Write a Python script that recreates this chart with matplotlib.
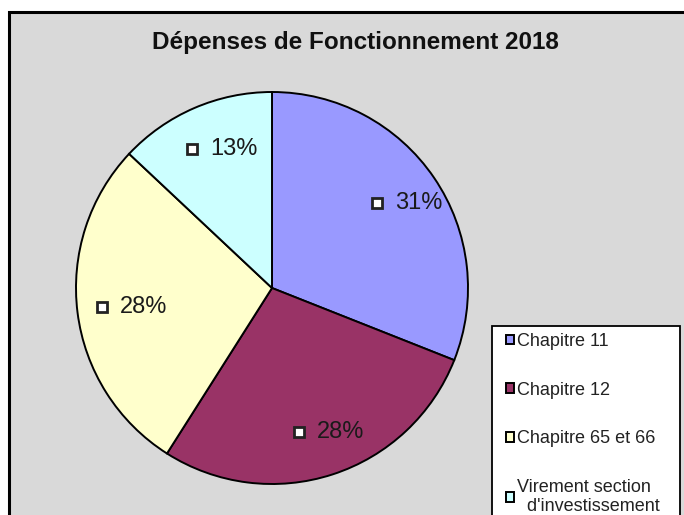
import matplotlib.pyplot as plt
from matplotlib.patches import Rectangle
from matplotlib.transforms import ScaledTranslation
import numpy as np

plt.rcParams['font.family'] = ['Liberation Sans', 'DejaVu Sans']

labels = ['Chapitre 11', 'Chapitre 12', 'Chapitre 65 et 66', 'Virement section\n  d\'investissement']
values = [31, 28, 28, 13]
colors = ['#9999ff', '#993366', '#ffffcc', '#ccffff']
title = 'Dépenses de Fonctionnement 2018'

W, H = 684, 515
fig = plt.figure(figsize=(W / 100, H / 100), dpi=100)
fig.patch.set_facecolor('white')

# grey chart area with black frame (runs off right/bottom like the screenshot)
fig.patches.append(Rectangle((9 / W, -0.1), 1.0, 1 - 12 / H + 0.1, transform=fig.transFigure,
                             facecolor='#d9d9d9', edgecolor='black', linewidth=2.2, zorder=-2))

fig.text(355 / W, 1 - 42 / H, title, ha='center', va='center', fontsize=17.5, fontweight='bold',
         color='#111111')

# pie: centre (272, 288) px, radius 196 px
cx, cy, r = 272, 288, 196
ax = fig.add_axes([(cx - r) / W, (H - cy - r) / H, 2 * r / W, 2 * r / H])
wedges, _ = ax.pie(values, colors=colors, startangle=90, counterclock=False,
                   wedgeprops=dict(edgecolor='black', linewidth=1.4))
ax.set_xlim(-1, 1)
ax.set_ylim(-1, 1)
ax.set_aspect('equal')
ax.axis('off')

shift = ScaledTranslation(-20 / 100, 0, fig.dpi_scale_trans)
for w, v in zip(wedges, values):
    mid = np.deg2rad((w.theta1 + w.theta2) / 2)
    px, py = 0.77 * np.cos(mid), 0.77 * np.sin(mid)
    ax.plot([px], [py], marker='s', markersize=7, markerfacecolor='white',
            markeredgecolor='#222222', markeredgewidth=2, linestyle='none',
            transform=ax.transData + shift)
    ax.annotate(f'{v}%', xy=(px, py), xytext=(-2, 0), textcoords='offset pixels',
                ha='left', va='center', fontsize=17, color='#1a1a1a')

# legend box
fig.patches.append(Rectangle((492 / W, -0.1), 188 / W, 1 - 326 / H + 0.1, transform=fig.transFigure,
                             facecolor='white', edgecolor='black', linewidth=1.3, zorder=-1))
leg = fig.legend(wedges, labels, loc='upper left', bbox_to_anchor=(506 / W, 1 - 333 / H),
                 frameon=False, fontsize=13, handlelength=0.45, handleheight=0.45,
                 handletextpad=0.15, labelspacing=1.75, borderaxespad=0, borderpad=0)
for t in leg.get_texts():
    t.set_color('#222222')

fig.savefig('out.png', dpi=100)
